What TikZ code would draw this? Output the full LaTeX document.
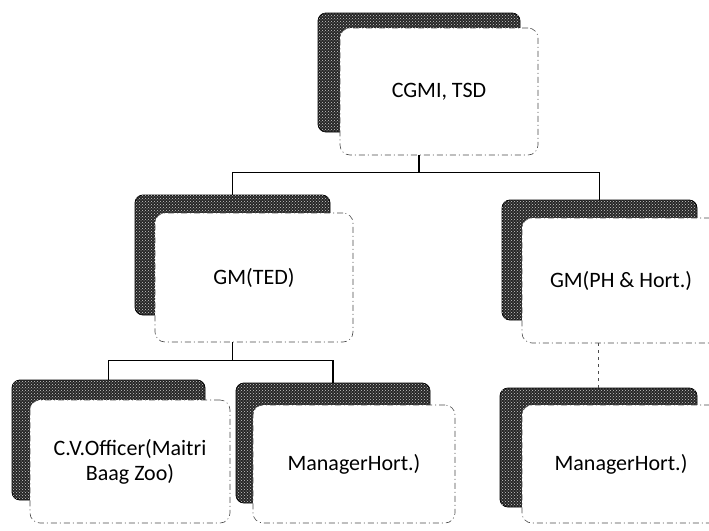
\documentclass[tikz,border=0pt]{standalone}
\usepackage{fontspec}
\setmainfont{Carlito}
\usetikzlibrary{patterns,calc}
\tikzset{
  shadowbox/.style={rectangle, rounded corners=8pt, fill=black!85, draw=black, line width=0.8pt,
    postaction={pattern=crosshatch dots, pattern color=white!80!black}, inner sep=0pt},
  frontbox/.style={rectangle, rounded corners=10pt, fill=white, draw=black!70, line width=0.6pt,
    dash pattern=on 6pt off 3pt on 1pt off 3pt, inner sep=0pt, align=center,
    font=\fontsize{22}{25}\selectfont},
  conn/.style={draw=black, line width=1.1pt},
  faintconn/.style={draw=black!70, line width=0.7pt, dash pattern=on 3pt off 4pt}
}
\begin{document}
\begin{tikzpicture}[x=1pt,y=-1pt]
\useasboundingbox (0,0) rectangle (709,530);
\clip (0,0) rectangle (709,530);
\fill[white] (0,0) rectangle (709,530);
% shadows
\node[shadowbox, minimum width=202pt, minimum height=119pt] (topS) at (419,72.5) {};
\node[shadowbox, minimum width=195pt, minimum height=120pt] (tedS) at (232.5,255) {};
\node[shadowbox, minimum width=195pt, minimum height=120pt] (phS) at (599.5,260) {};
\node[shadowbox, minimum width=193pt, minimum height=120pt] (cvS) at (108.5,440) {};
\node[shadowbox, minimum width=194pt, minimum height=120pt] (midS) at (333,443) {};
\node[shadowbox, minimum width=197pt, minimum height=119pt] (rS) at (598.5,447.5) {};
% fronts
\node[frontbox, minimum width=198pt, minimum height=127pt] (topF) at (439,91.5) {CGMI, TSD};
\node[frontbox, minimum width=198pt, minimum height=129pt] (tedF) at (254,277.5) {GM(TED)};
\node[frontbox, minimum width=198pt, minimum height=125pt] (phF) at (621,280.5) {GM(PH \& Hort.)};
\node[frontbox, minimum width=200pt, minimum height=123pt] (cvF) at (130,461.5) {C.V.Officer(Maitri\\Baag Zoo)};
\node[frontbox, minimum width=202pt, minimum height=118pt] (midF) at (354,464) {ManagerHort.)};
\node[frontbox, minimum width=198pt, minimum height=118pt] (rF) at (621,464) {ManagerHort.)};
% connectors
\coordinate (j1) at ($(topS.south |- topF.south)+(0,17)$);
\draw[conn] (topS.south |- topF.south) -- (j1);
\draw[conn] (j1) -| (tedS.north);
\draw[conn] (j1) -| (phS.north);
\coordinate (j2) at ($(tedS.south |- tedF.south)+(0,18)$);
\draw[conn] (tedS.south |- tedF.south) -- (j2);
\draw[conn] (j2) -| (cvS.north);
\draw[conn] (j2) -| (midS.north);
\draw[faintconn] (rS.north |- phF.south) -- (rS.north);
\end{tikzpicture}
\end{document}
